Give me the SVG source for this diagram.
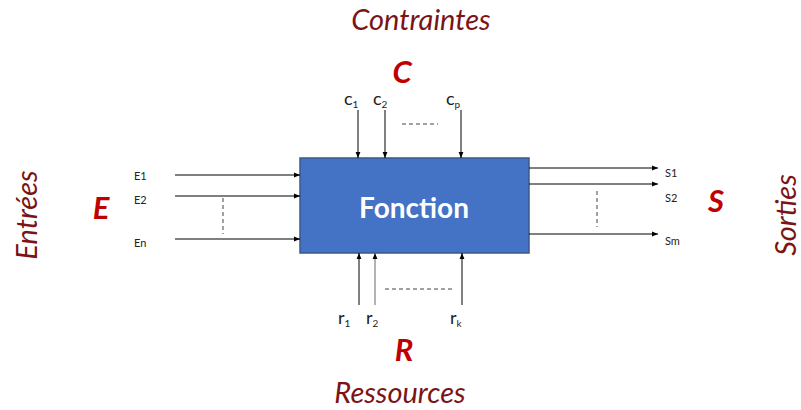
<svg xmlns="http://www.w3.org/2000/svg" width="801" height="410" viewBox="0 0 801 410">
<style>
.lbl{font-family:Lato,"Open Sans",sans-serif;font-size:11px;fill:#222}
.sub{font-family:Lato,"Open Sans",sans-serif;font-size:18px;fill:#222}
.sm{font-family:Lato,"Open Sans",sans-serif;font-size:10px;fill:#222}
.big{font-family:Lato,"Open Sans",sans-serif;font-size:31px;font-weight:bold;font-style:italic;fill:#C00000}
.word{font-family:Lato,"Open Sans",sans-serif;font-size:29px;font-style:italic;fill:#7B1416}
.ln{stroke:#000;stroke-width:1;fill:none}
.dash{stroke:#444;stroke-width:1;stroke-dasharray:4,3;fill:none}
</style>
<defs>
<marker id="ah" viewBox="0 0 10 10" refX="10" refY="5" markerWidth="6" markerHeight="6" orient="auto"><path d="M0,1 L10,5 L0,9 z" fill="#000"/></marker>
</defs>
<g id="fonction">
<rect x="300" y="158" width="229" height="95" fill="#4472C4" stroke="#3A5A8C" stroke-width="1.5"/>
<text x="414" y="218" text-anchor="middle" style="font-family:Lato,'Open Sans',sans-serif;font-size:28px;font-weight:bold;fill:#fff">Fonction</text>
</g>
<g id="connectors">
<line class="ln" x1="175" y1="175" x2="300" y2="175" marker-end="url(#ah)"/>
<line class="ln" x1="175" y1="196" x2="300" y2="196" marker-end="url(#ah)"/>
<line class="ln" x1="175" y1="239" x2="300" y2="239" marker-end="url(#ah)"/>
<line class="dash" x1="223" y1="198" x2="223" y2="234"/>
<line class="ln" x1="529" y1="168" x2="658" y2="168" marker-end="url(#ah)"/>
<line class="ln" x1="529" y1="184" x2="658" y2="184" marker-end="url(#ah)"/>
<line class="ln" x1="529" y1="234" x2="658" y2="234" marker-end="url(#ah)"/>
<line class="dash" x1="597" y1="191" x2="597" y2="227"/>
<line class="ln" x1="358" y1="110" x2="358" y2="158" marker-end="url(#ah)"/>
<line class="ln" x1="385" y1="110" x2="385" y2="158" marker-end="url(#ah)"/>
<line class="ln" x1="461" y1="110" x2="461" y2="158" marker-end="url(#ah)"/>
<line class="dash" x1="402" y1="124" x2="438" y2="124"/>
<line class="ln" x1="359" y1="305" x2="359" y2="253" marker-end="url(#ah)"/>
<line class="ln" x1="375" y1="305" x2="375" y2="253" marker-end="url(#ah)" style="stroke:#666"/>
<line class="ln" x1="462" y1="305" x2="462" y2="253" marker-end="url(#ah)"/>
<line class="dash" x1="385" y1="289" x2="455" y2="289"/>
</g>
<g id="inputs">
<text class="lbl" x="134" y="180">E1</text>
<text class="lbl" x="134" y="204">E2</text>
<text class="lbl" x="134" y="247">En</text>
</g>
<g id="outputs">
<text class="lbl" x="665" y="177">S1</text>
<text class="lbl" x="665" y="202">S2</text>
<text class="lbl" x="665" y="245">Sm</text>
</g>
<g id="constraints">
<text class="sub" x="344" y="105">c<tspan class="sm" dy="3">1</tspan></text>
<text class="sub" x="373" y="105">c<tspan class="sm" dy="3">2</tspan></text>
<text class="sub" x="446" y="105">c<tspan class="sm" dy="3">p</tspan></text>
</g>
<g id="resources">
<text class="sub" x="338" y="324">r<tspan class="sm" dy="3">1</tspan></text>
<text class="sub" x="366" y="324">r<tspan class="sm" dy="3">2</tspan></text>
<text class="sub" x="450" y="324">r<tspan class="sm" dy="3">k</tspan></text>
</g>
<g id="titles">
<text class="big" x="402" y="83" text-anchor="middle">C</text>
<text class="big" x="101" y="219" text-anchor="middle">E</text>
<text class="big" x="716" y="212" text-anchor="middle">S</text>
<text class="big" x="404" y="361" text-anchor="middle">R</text>
<text class="word" x="421" y="30" text-anchor="middle">Contraintes</text>
<text class="word" x="400" y="403" text-anchor="middle">Ressources</text>
<text class="word" transform="translate(37,215) rotate(-90)" text-anchor="middle">Entrées</text>
<text class="word" transform="translate(796,215) rotate(-90)" text-anchor="middle">Sorties</text>
</g>
</svg>
